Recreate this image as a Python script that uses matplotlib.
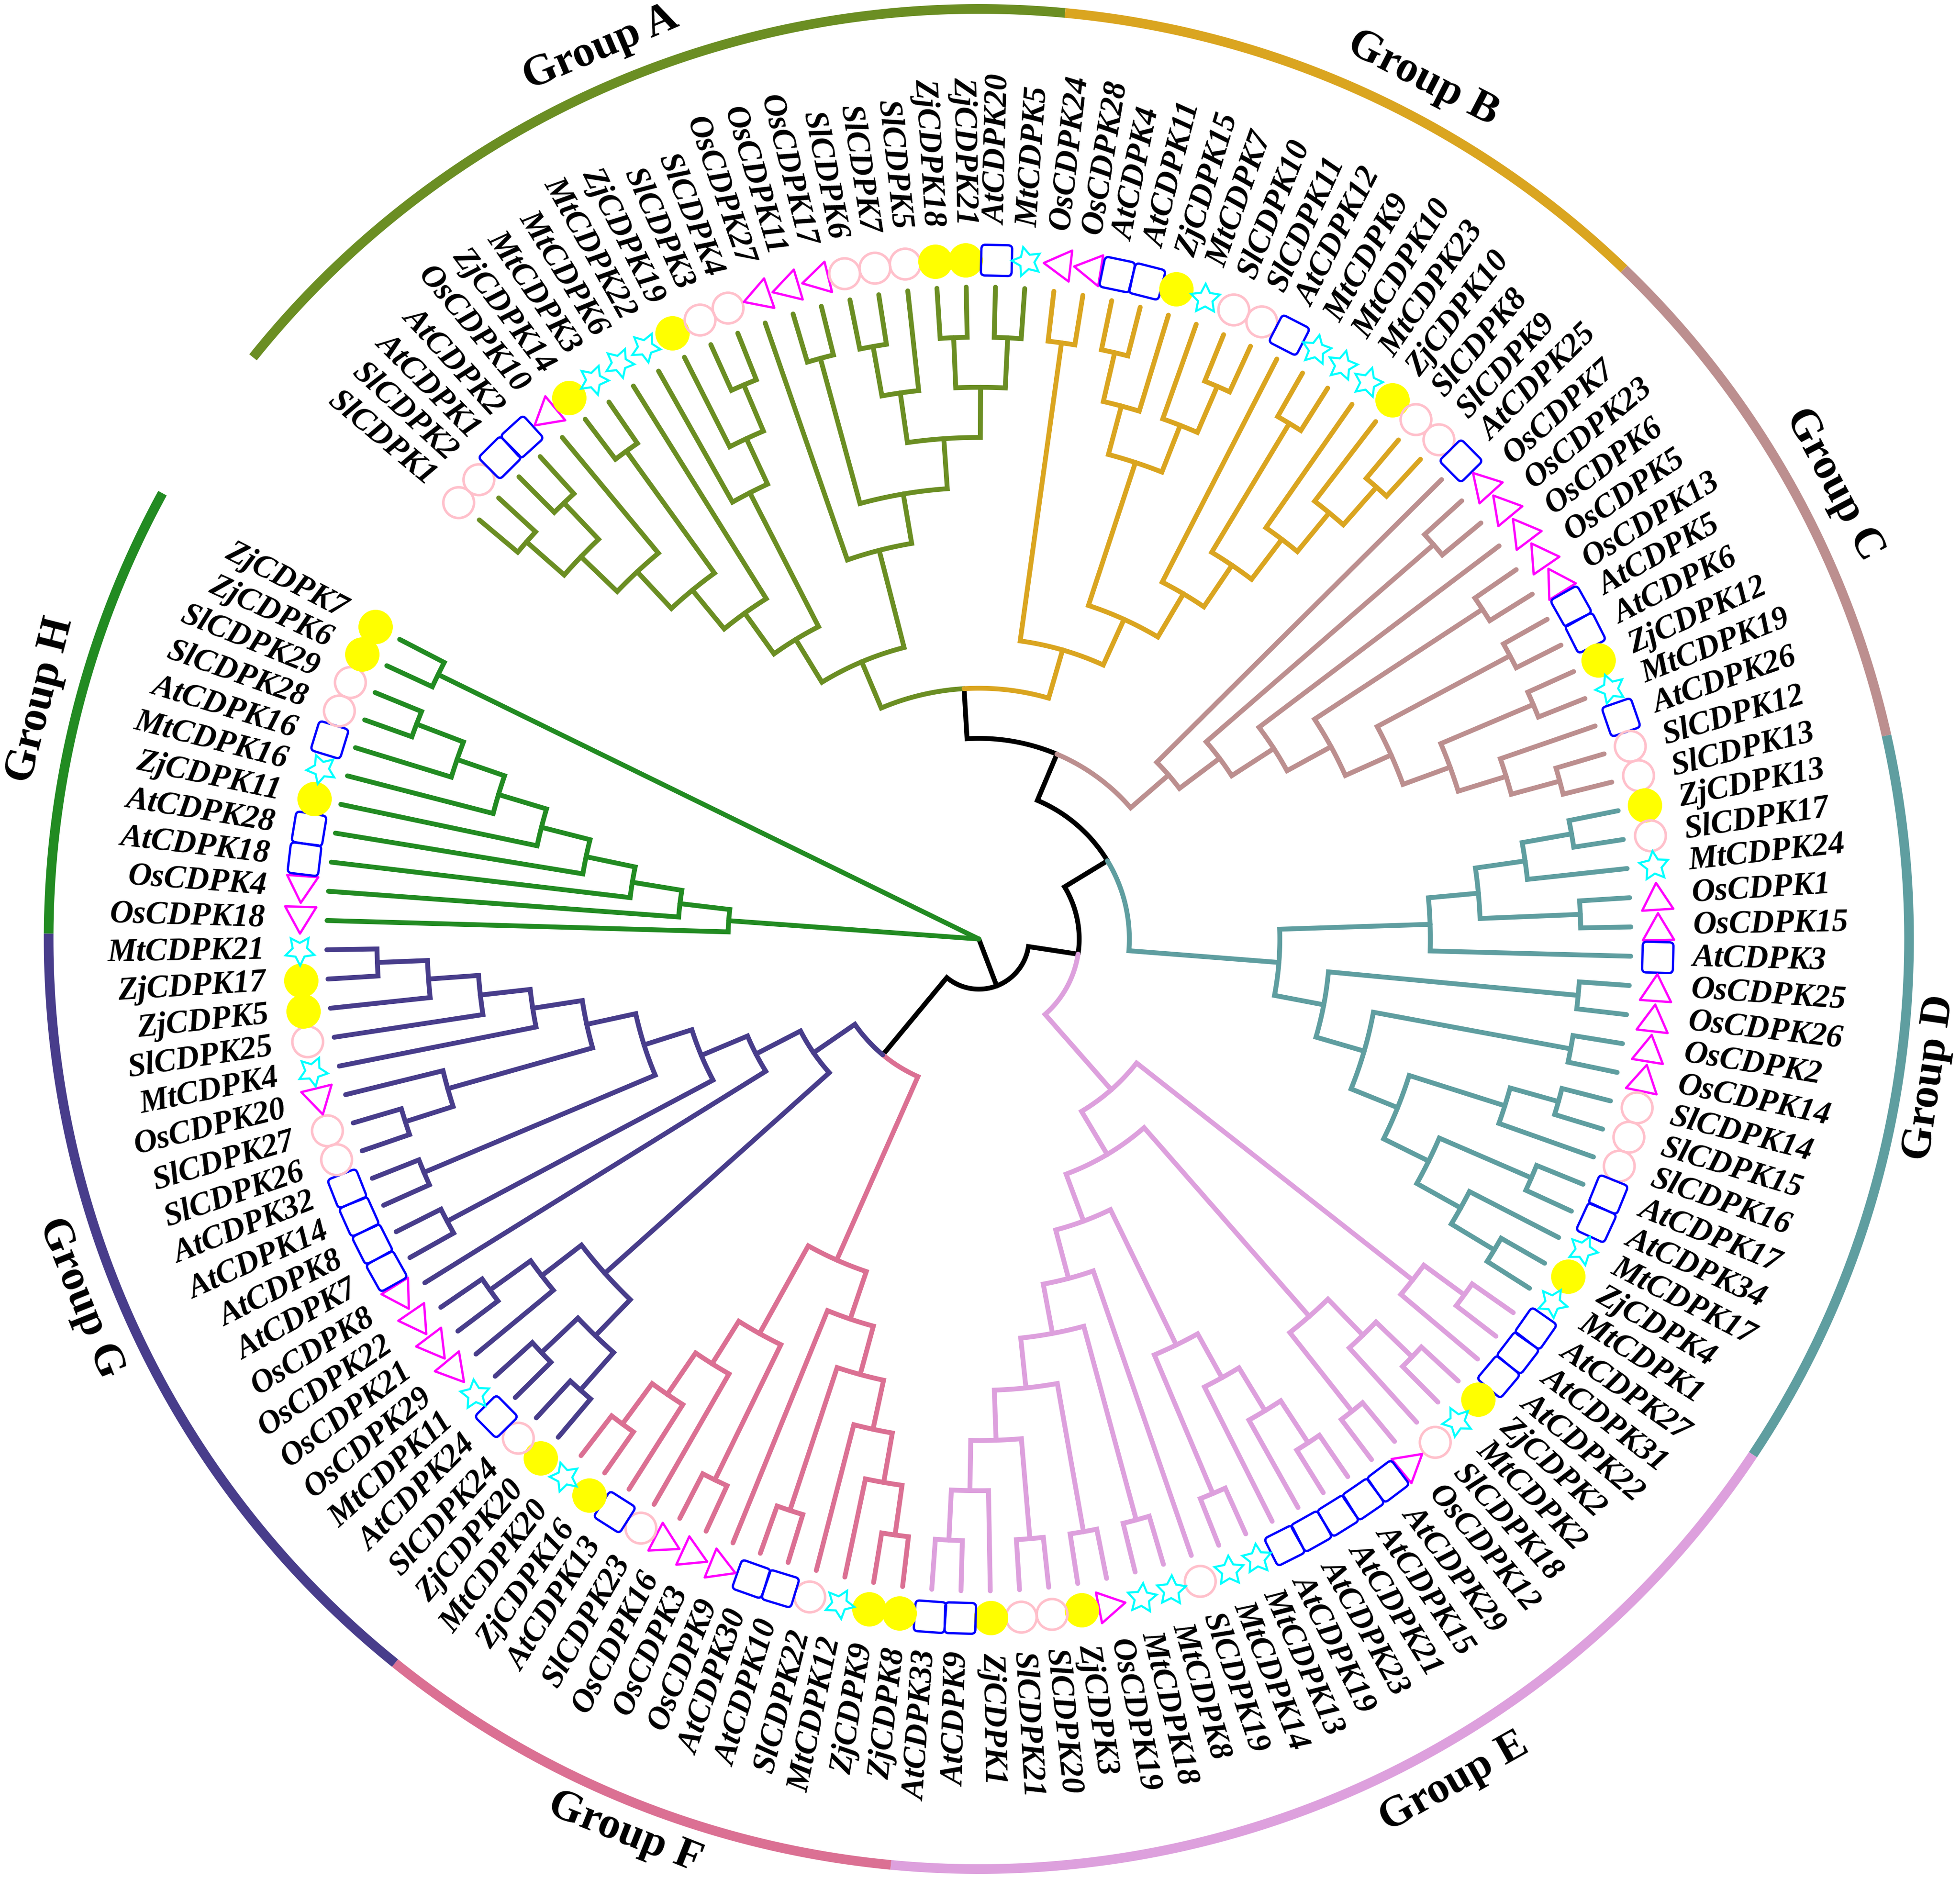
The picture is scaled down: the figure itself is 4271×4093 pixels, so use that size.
import numpy as np
import matplotlib
matplotlib.use("Agg")
import matplotlib.pyplot as plt
from matplotlib.markers import MarkerStyle
from matplotlib.path import Path
from matplotlib.transforms import Affine2D

# ---------- data ----------
LABELS_A = ["SlCDPK1", "SlCDPK2", "AtCDPK1", "AtCDPK2", "OsCDPK10", "ZjCDPK14", "MtCDPK3", "MtCDPK6",
            "MtCDPK22", "ZjCDPK19", "SlCDPK3", "SlCDPK4", "OsCDPK27", "OsCDPK11", "OsCDPK17", "SlCDPK6",
            "SlCDPK7", "SlCDPK5", "ZjCDPK18", "ZjCDPK21", "AtCDPK20", "MtCDPK5"]
LABELS_B = ["OsCDPK24", "OsCDPK28", "AtCDPK4", "AtCDPK11", "ZjCDPK15", "MtCDPK7", "SlCDPK10", "SlCDPK11",
            "AtCDPK12", "MtCDPK9", "MtCDPK10", "MtCDPK23", "ZjCDPK10", "SlCDPK8", "SlCDPK9"]
LABELS_C = ["AtCDPK25", "OsCDPK7", "OsCDPK23", "OsCDPK6", "OsCDPK5", "OsCDPK13", "AtCDPK5", "AtCDPK6",
            "ZjCDPK12", "MtCDPK19", "AtCDPK26", "SlCDPK12", "SlCDPK13"]
LABELS_D = ["ZjCDPK13", "SlCDPK17", "MtCDPK24", "OsCDPK1", "OsCDPK15", "AtCDPK3", "OsCDPK25", "OsCDPK26",
            "OsCDPK2", "OsCDPK14", "SlCDPK14", "SlCDPK15", "SlCDPK16", "AtCDPK17", "AtCDPK34", "MtCDPK17",
            "ZjCDPK4", "MtCDPK1"]
LABELS_E = ["AtCDPK27", "AtCDPK31", "AtCDPK22", "ZjCDPK2", "MtCDPK2", "SlCDPK18", "OsCDPK12", "AtCDPK29",
            "AtCDPK15", "AtCDPK21", "AtCDPK23", "AtCDPK19", "MtCDPK13", "MtCDPK14", "SlCDPK19", "MtCDPK8",
            "MtCDPK18", "OsCDPK19", "ZjCDPK3", "SlCDPK20", "SlCDPK21", "ZjCDPK1", "AtCDPK9", "AtCDPK33"]
LABELS_F = ["ZjCDPK8", "ZjCDPK9", "MtCDPK12", "SlCDPK22", "AtCDPK10", "AtCDPK30", "OsCDPK9", "OsCDPK3",
            "OsCDPK16", "SlCDPK23", "AtCDPK13", "ZjCDPK16", "MtCDPK20"]
LABELS_G = ["ZjCDPK20", "SlCDPK24", "AtCDPK24", "MtCDPK11", "OsCDPK29", "OsCDPK21", "OsCDPK22", "OsCDPK8",
            "AtCDPK7", "AtCDPK8", "AtCDPK14", "AtCDPK32", "SlCDPK26", "SlCDPK27", "OsCDPK20", "MtCDPK4",
            "SlCDPK25", "ZjCDPK5", "ZjCDPK17", "MtCDPK21"]
LABELS_H = ["OsCDPK18", "OsCDPK4", "AtCDPK18", "AtCDPK28", "ZjCDPK11", "MtCDPK16", "AtCDPK16", "SlCDPK28",
            "SlCDPK29", "ZjCDPK6", "ZjCDPK7"]

GROUP_NAMES = ["Group A", "Group B", "Group C", "Group D", "Group E", "Group F", "Group G", "Group H"]
GROUP_COLORS = ["#6B8E23", "#DAA520", "#BC8F8F", "#5F9EA0", "#DDA0DD", "#DB7093", "#483D8B", "#228B22"]
GROUP_LEAVES = [LABELS_A, LABELS_B, LABELS_C, LABELS_D, LABELS_E, LABELS_F, LABELS_G, LABELS_H]

# tree topology: nested clades of leaf numbers (running order round the circle)
TREE_A = [[[[[[[0, 1], [2, 3]], 4], [5, 6]], 7], [[[10, 11], 9], 8]],
          [12, [[13, 14], [[[15, 16], 17], [[18, 19], [20, 21]]]]]]
TREE_B = [[22, 23],
          [[[[24, 25], 26], [27, [28, 29]]],
           [30, [[31, 32], [33, [34, [35, 36]]]]]]]
TREE_C = [37, [[38, 39], [40, [[41, 42], [[43, 44], [[45, 46], [47, [48, 49]]]]]]]]
TREE_D = [[[[[50, 51], 52], [53, 54]], 55],
          [[56, 57], [[58, 59], [[[60, 61], 62], [[63, 64], [65, [66, 67]]]]]]]
TREE_E = [[[68, 69], 70],
          [[[[71, 72], 73], [74, 75]],
           [[[[[76, 77], 78], 79], [80, 81]],
            [82, [[83, 84], [[85, 86], [[87, 88], [89, [90, 91]]]]]]]]]
TREE_F = [[[[[[92, 93], 94], 95], [96, 97]], 98],
          [[99, 100], [101, [102, [103, 104]]]]]
TREE_G = [[[[105, 106], [107, 108]], [109, [110, 111]]],
          [112, [[113, 114], [[115, 116], [[[117, 118], 119], [120, [121, [122, [123, 124]]]]]]]]]
TREE_H_LOWER = [125, [126, [127, [128, [129, [130, [131, [132, 133]]]]]]]]
TREE_H_UPPER = [134, 135]
TREE = [[[[[[TREE_A, TREE_B], TREE_C], TREE_D], TREE_E], [TREE_F, TREE_G]], TREE_H_LOWER, TREE_H_UPPER]

# ---------- layout (pixels of the 4271 x 4093 canvas) ----------
W, H, DPI = 4271, 4093, 100
CX, CY = 2133, 2046.5
RMAX = 2046.5
R_TIP, R_MARK, R_LABEL, R_RING = 1421, 1480, 1556, 2027
A0, STEP = 140.0, 2.573
LEVELS = 13
PT = 72 / DPI

LABELS = [s for g in GROUP_LEAVES for s in g]
LEAF_COLOR = [c for g, c in zip(GROUP_LEAVES, GROUP_COLORS) for _ in g]
GROUP_LABEL_ANGLES = [113.0, 62.7, 28.0, -8.3, -60.6, -111.6, 201.8, 165.7]
GROUP_LABEL_RADII = [2110, 2110, 2110, 2095, 2110, 2096, 2108, 2110]

fig = plt.figure(figsize=(W / DPI, H / DPI), dpi=DPI, facecolor="white")
ax = fig.add_axes([(CX - RMAX) / W, 0, 2 * RMAX / W, 1], projection="polar")
ax.set_xlim(0, 2 * np.pi)
ax.set_ylim(0, RMAX)
ax.autoscale(False)
ax.axis("off")


def leaf_angle(i):
    return A0 - i * STEP


def height(node):
    return 0 if isinstance(node, int) else 1 + max(height(c) for c in node)


def angle(node):
    if isinstance(node, int):
        return leaf_angle(node)
    return 0.5 * (angle(node[0]) + angle(node[-1]))


def leaves(node):
    return [node] if isinstance(node, int) else [x for c in node for x in leaves(c)]


def colour(node):
    cols = {LEAF_COLOR[i] for i in leaves(node)}
    return cols.pop() if len(cols) == 1 else "black"


def radius(node):
    return R_TIP * (1 - height(node) / LEVELS)


def draw(node):
    if isinstance(node, int):
        return
    rn, an = radius(node), angle(node)
    for child in node:
        ac, rc = angle(child), radius(child)
        n = max(2, int(abs(an - ac) / 0.5) + 2)
        arc = np.radians(np.linspace(an, ac, n))
        th = np.append(arc, np.radians(ac))
        rr = np.append(np.full(n, rn), rc)
        ax.plot(th, rr, color=colour(child), lw=7.6, solid_joinstyle="miter",
                solid_capstyle="round", clip_on=False, zorder=2)
    for child in node:
        draw(child)


draw(TREE)

# ---------- outer ring and group names ----------
start = 0
for name, col, grp, ga, gr in zip(GROUP_NAMES, GROUP_COLORS, GROUP_LEAVES, GROUP_LABEL_ANGLES, GROUP_LABEL_RADII):
    a1 = leaf_angle(start) + STEP / 2
    a2 = leaf_angle(start + len(grp) - 1) - STEP / 2
    th = np.radians(np.linspace(a1, a2, 200))
    ax.plot(th, np.full_like(th, R_RING), color=col, lw=21 * PT, solid_capstyle="butt", clip_on=False, zorder=2)
    a = ga % 360
    rot = a - 90 if a < 180 else a + 90
    ax.text(np.radians(ga), gr, name, rotation=rot % 360, rotation_mode="anchor", ha="center", va="center",
            family="Liberation Serif", weight="bold", fontsize=69, color="black", clip_on=False)
    start += len(grp)

# ---------- tip markers (species decides the symbol) ----------
s = 0.5
k = 0.13
ROUNDED = Path(
    [(-s + k, -s), (s - k, -s), (s, -s), (s, -s + k), (s, s - k), (s, s), (s - k, s), (-s + k, s), (-s, s),
     (-s, s - k), (-s, -s + k), (-s, -s), (-s + k, -s), (-s + k, -s)],
    [Path.MOVETO, Path.LINETO, Path.CURVE3, Path.CURVE3, Path.LINETO, Path.CURVE3, Path.CURVE3, Path.LINETO,
     Path.CURVE3, Path.CURVE3, Path.LINETO, Path.CURVE3, Path.CURVE3, Path.CLOSEPOLY])
TRIANGLE = Path([(0, 0.43), (-0.5, -0.43), (0.5, -0.43), (0, 0.43)],
                [Path.MOVETO, Path.LINETO, Path.LINETO, Path.CLOSEPOLY])

for i, lab in enumerate(LABELS):
    deg = leaf_angle(i)
    th = np.radians(deg)
    sp = lab[:2]
    rotate = Affine2D().rotate_deg(deg)
    if sp == "Zj":
        ax.plot([th], [R_MARK], marker="o", ms=75 * PT, mfc="#FFFF00", mec="none", ls="none", clip_on=False, zorder=3)
    elif sp == "Sl":
        ax.plot([th], [R_MARK], marker="o", ms=67 * PT, mfc="none", mec="#FFC0CB", mew=5.5 * PT, ls="none",
                clip_on=False, zorder=3)
    elif sp == "At":
        ax.plot([th], [R_MARK], marker=MarkerStyle(ROUNDED, transform=rotate), ms=67 * PT, mfc="none",
                mec="#0000FF", mew=5 * PT, ls="none", clip_on=False, zorder=3)
    elif sp == "Os":
        ax.plot([th], [R_MARK], marker=MarkerStyle(TRIANGLE, transform=rotate, joinstyle="miter"), ms=68 * PT,
                mfc="none", mec="#FF00FF", mew=5 * PT, ls="none", clip_on=False, zorder=3)
    else:
        ax.plot([th], [R_MARK], marker=MarkerStyle((5, 1, deg), joinstyle="miter"), ms=66 * PT, mfc="none",
                mec="#00FFFF", mew=4.5 * PT, ls="none", clip_on=False, zorder=3)

    a = deg % 360
    if 90 < a < 270:
        rot, ha = a - 180, "right"
    else:
        rot, ha = deg if a <= 90 else a - 360, "left"
    ax.text(th, R_LABEL, lab, rotation=rot, rotation_mode="anchor", ha=ha, va="center",
            family="Liberation Serif", weight="bold", style="italic", fontsize=51, color="black", clip_on=False)

fig.savefig("out.png", dpi=DPI, facecolor="white")
